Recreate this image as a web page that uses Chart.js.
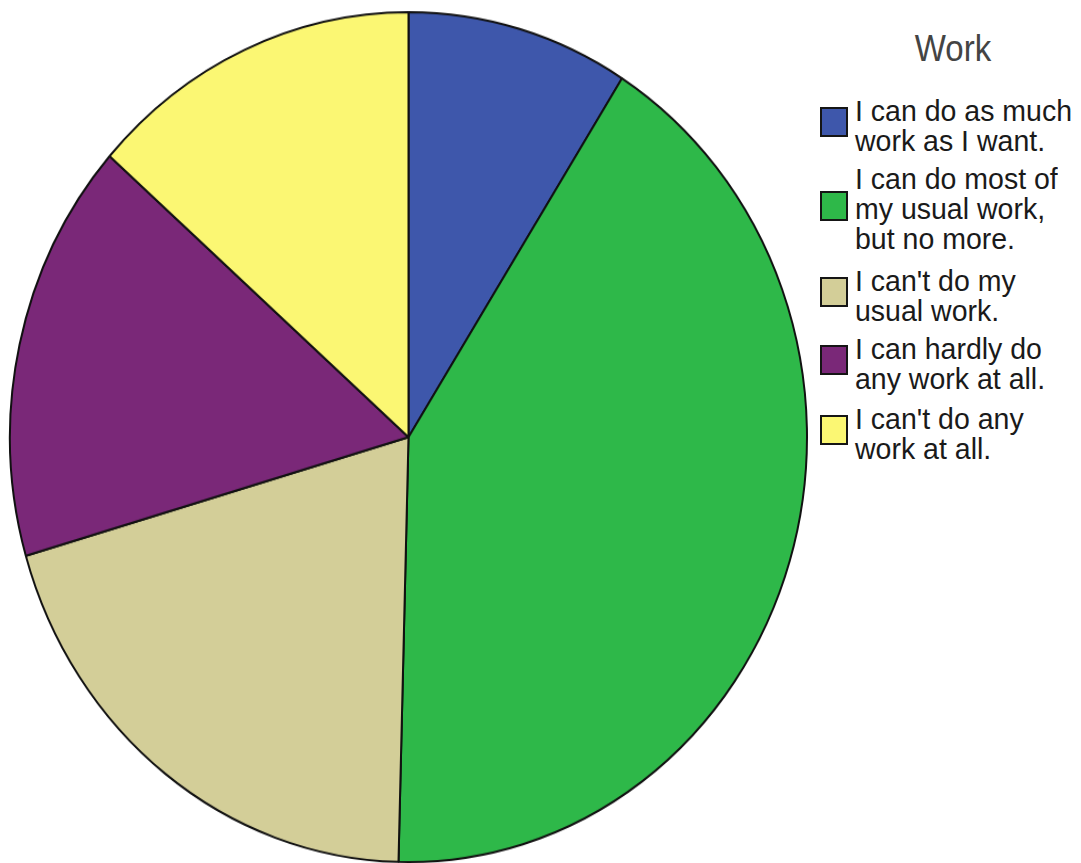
<!DOCTYPE html>
<html>
<head>
<meta charset="utf-8">
<script src="https://cdn.jsdelivr.net/npm/chart.js@4/dist/chart.umd.min.js"></script>
<style>
    body { margin: 0; background: #fff; width: 1081px; height: 863px; overflow: hidden; position: relative; }
    #pieWrap { position: absolute; left: 8px; top: 10px; width: 801px; height: 801px; transform-origin: 0 0; transform: scaleY(1.0665); }
    #legend { position: absolute; left: 820px; top: 0; font-family: "Liberation Sans", Arial, sans-serif; color: #1a1a1a; }
    #legend .title { position: absolute; left: 58px; top: 28px; width: 150px; text-align: center; font-size: 33px; color: #444; transform-origin: 50% 0; transform: scaleY(1.1); }
    #legend .item { position: absolute; left: 0; width: 261px; }
    #legend .box { position: absolute; left: 0; width: 28px; height: 30px; border: 2px solid #151515; box-sizing: border-box; }
    #legend .txt { position: absolute; left: 35px; font-size: 28.5px; line-height: 28.5px; white-space: nowrap; transform-origin: 0 0; transform: scaleY(1.066); }
</style>
</head>
<body>
<div id="pieWrap"><canvas id="workPie" width="801" height="801"></canvas></div>
<div id="legend"></div>
<script>
const chartTitle = 'Work';
const categories = [
    ['I can do as much', 'work as I want.'],
    ['I can do most of', 'my usual work,', 'but no more.'],
    ["I can't do my", 'usual work.'],
    ['I can hardly do', 'any work at all.'],
    ["I can't do any", 'work at all.']
];
const percents = [9.0, 41.4, 20.1, 16.0, 13.5];
const colors = ['#3e57ab', '#2eb849', '#d3ce98', '#7a2878', '#fbf773'];

// top of the first text line for each legend entry
const legendTops = [95, 163, 265, 333, 403];

const ctx = document.getElementById('workPie').getContext('2d');
new Chart(ctx, {
    type: 'pie',
    data: {
        labels: categories.map(c => c.join(' ')),
        datasets: [{
            data: percents,
            backgroundColor: colors,
            borderColor: '#111',
            borderWidth: 2
        }]
    },
    options: {
        responsive: false,
        animation: false,
        layout: { padding: 1 },
        plugins: {
            legend: { display: false },
            tooltip: { enabled: false }
        }
    }
});

function buildLegend() {
    const legend = document.getElementById('legend');
    const title = document.createElement('div');
    title.className = 'title';
    title.textContent = chartTitle;
    legend.appendChild(title);

    categories.forEach((lines, i) => {
        const item = document.createElement('div');
        item.className = 'item';
        item.style.top = legendTops[i] + 'px';
        const box = document.createElement('div');
        box.className = 'box';
        box.style.background = colors[i];
        // box sits a little above the middle of the text block
        box.style.top = Math.round(lines.length * 30.4 / 2 - 18) + 'px';
        const txt = document.createElement('div');
        txt.className = 'txt';
        txt.innerHTML = lines.join('<br>');
        item.appendChild(box);
        item.appendChild(txt);
        legend.appendChild(item);
    });
}
buildLegend();
</script>
</body>
</html>
